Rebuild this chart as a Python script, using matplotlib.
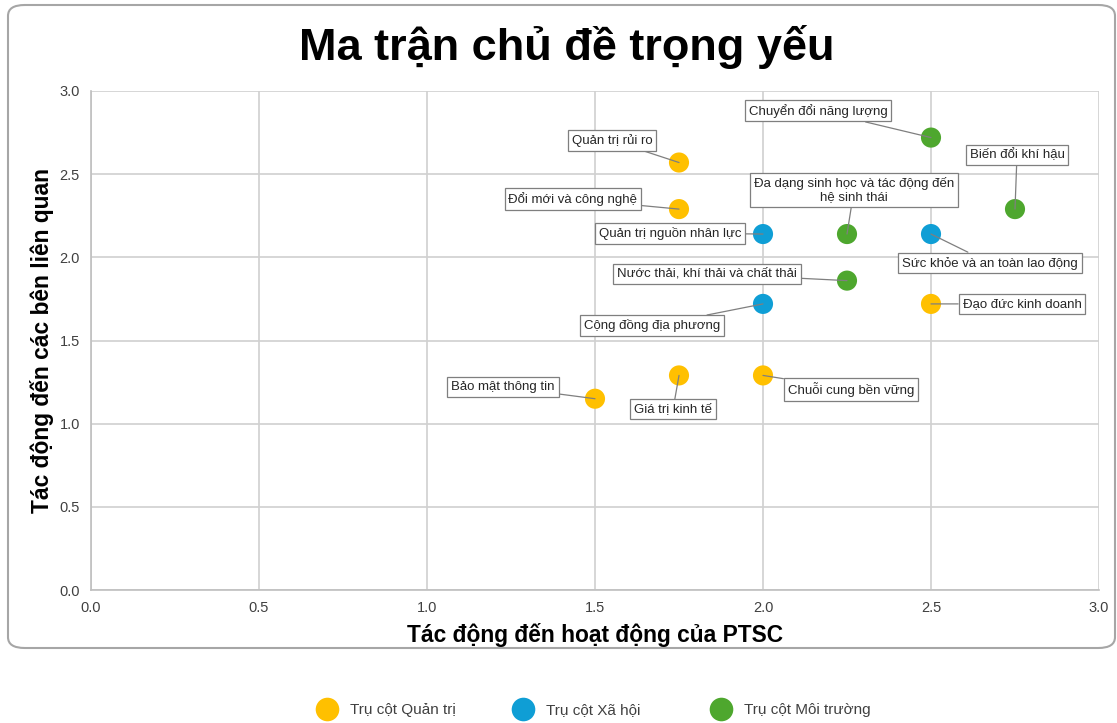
import matplotlib.pyplot as plt
from matplotlib.patches import FancyBboxPatch
from matplotlib.lines import Line2D

plt.rcParams['font.family'] = ['Liberation Sans', 'DejaVu Sans']

# data
groups = ["Trụ cột Quản trị", "Trụ cột Xã hội", "Trụ cột Môi trường"]
colors = ["#FFC000", "#0F9ED5", "#4EA72E"]

topics = ["Quản trị rủi ro", "Đổi mới và công nghệ", "Bảo mật thông tin",
          "Giá trị kinh tế", "Chuỗi cung bền vững", "Đạo đức kinh doanh",
          "Quản trị nguồn nhân lực", "Cộng đồng địa phương", "Sức khỏe và an toàn lao động",
          "Chuyển đổi năng lượng", "Biến đổi khí hậu", "Đa dạng sinh học và tác động đến\nhệ sinh thái",
          "Nước thải, khí thải và chất thải"]
group_of = [0, 0, 0, 0, 0, 0, 1, 1, 1, 2, 2, 2, 2]
x_vals = [1.75, 1.75, 1.5, 1.75, 2.0, 2.5, 2.0, 2.0, 2.5, 2.5, 2.75, 2.25, 2.25]
y_vals = [2.57, 2.29, 1.15, 1.29, 1.29, 1.72, 2.14, 1.72, 2.14, 2.72, 2.29, 2.14, 1.86]

# label offsets in pixels (dx, dy)
offsets = [(-67, 22), (-106, 10), (-92, 12), (-6, -34), (88, -14), (91, 0),
           (-93, 1), (-111, -22), (59, -29), (-113, 27), (2, 54), (7, 44), (-140, 7)]

fig = plt.figure(figsize=(11.17, 7.23), dpi=100)
W, H = 1117, 723

# outer rounded frame
frame = FancyBboxPatch((8 / W, 1 - 648 / H), 1107 / W, 643 / H,
                       boxstyle="round,pad=0,rounding_size=0.015",
                       transform=fig.transFigure, facecolor="white",
                       edgecolor="#a6a6a6", linewidth=1.5, zorder=-1)
fig.patches.append(frame)

ax = fig.add_axes([91 / W, 1 - 590 / H, (1099 - 91) / W, (590 - 91) / H])
ax.set_facecolor("none")

for i in range(len(topics)):
    ax.scatter(x_vals[i], y_vals[i], s=210, color=colors[group_of[i]],
               edgecolor="none", zorder=3)
    ax.annotate(topics[i], (x_vals[i], y_vals[i]), xytext=offsets[i],
                textcoords="offset pixels", ha="center", va="center",
                fontsize=9.5, color="#262626", multialignment="center",
                bbox=dict(boxstyle="square,pad=0.3", fc="white", ec="#7f7f7f", lw=0.9),
                arrowprops=dict(arrowstyle="-", color="#7f7f7f", lw=0.9,
                                shrinkA=0, shrinkB=0),
                zorder=4)

ax.set_xlim(0, 3)
ax.set_ylim(0, 3)
ax.set_xticks([0, 0.5, 1.0, 1.5, 2.0, 2.5, 3.0])
ax.set_yticks([0, 0.5, 1.0, 1.5, 2.0, 2.5, 3.0])
ax.set_xticklabels(["0.0", "0.5", "1.0", "1.5", "2.0", "2.5", "3.0"])
ax.set_yticklabels(["0.0", "0.5", "1.0", "1.5", "2.0", "2.5", "3.0"])
ax.tick_params(length=0, labelsize=10.5, labelcolor="#404040", pad=8)
ax.grid(True, color="#d0d0d0", linewidth=1.2)
ax.set_axisbelow(True)
for side in ["top", "right"]:
    ax.spines[side].set_visible(False)
for side in ["left", "bottom"]:
    ax.spines[side].set_color("#bfbfbf")
    ax.spines[side].set_linewidth(1.2)

ax.set_xlabel("Tác động đến hoạt động của PTSC", fontsize=16.4, fontweight="bold", labelpad=6)
ax.set_ylabel("Tác động đến các bên liên quan", fontsize=16.4, fontweight="bold", labelpad=4)

fig.text(567 / W, 1 - 47 / H, "Ma trận chủ đề trọng yếu", ha="center", va="center",
         fontsize=32.5, fontweight="bold", color="black")

# legend: one entry per legend so entries sit at even spacing like the original
legend_x = [327, 523, 721]
for c, g, lx in zip(colors, groups, legend_x):
    h = Line2D([], [], marker="o", linestyle="none", markersize=17,
               markerfacecolor=c, markeredgecolor="none")
    fig.legend([h], [g], loc="center left", bbox_to_anchor=((lx - 11.5) / W, 1 - 710 / H),
               frameon=False, fontsize=11, borderpad=0, borderaxespad=0,
               handlelength=1.5, handletextpad=0.75, labelcolor="#404040")

fig.savefig("out.png", dpi=100)
